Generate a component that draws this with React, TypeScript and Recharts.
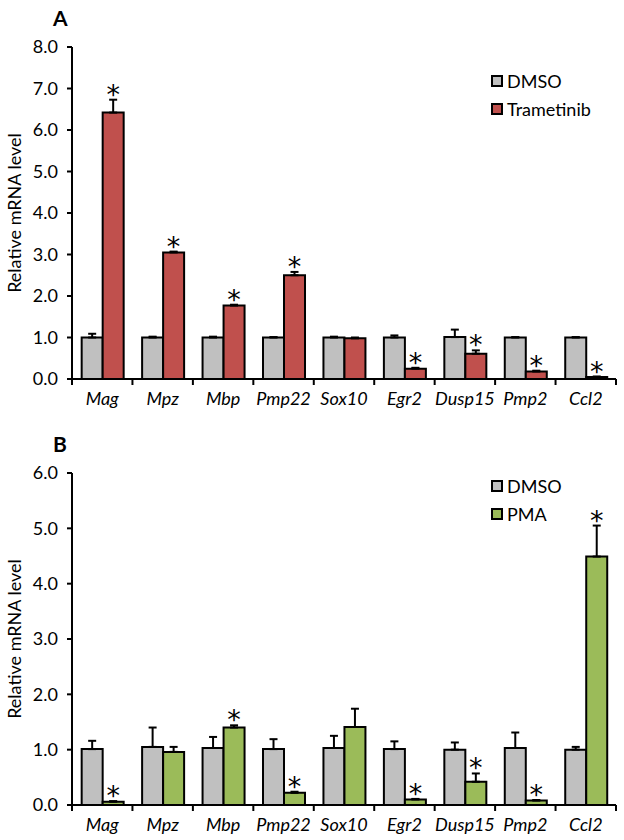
import { Bar, BarChart, ErrorBar, LabelList, XAxis, YAxis } from 'recharts'

const GENES = ['Mag', 'Mpz', 'Mbp', 'Pmp22', 'Sox10', 'Egr2', 'Dusp15', 'Pmp2', 'Ccl2']

// panel A: DMSO vs Trametinib
const DMSO_A = [1.0, 1.0, 1.0, 1.0, 1.0, 1.0, 1.01, 1.0, 1.0]
const DMSO_A_ERR = [0.09, 0.02, 0.02, 0.01, 0.02, 0.05, 0.18, 0.01, 0.01]
const TRAM = [6.42, 3.05, 1.77, 2.5, 0.98, 0.25, 0.61, 0.18, 0.05]
const TRAM_ERR = [0.31, 0.02, 0.02, 0.08, 0.02, 0.02, 0.08, 0.02, 0.01]
const TRAM_SIG = [true, true, true, true, false, true, true, true, true]
const TICKS_A = [0, 1, 2, 3, 4, 5, 6, 7, 8]

// panel B: DMSO vs PMA
const DMSO_B = [1.01, 1.05, 1.03, 1.01, 1.03, 1.01, 1.0, 1.03, 1.0]
const DMSO_B_ERR = [0.15, 0.35, 0.2, 0.18, 0.22, 0.14, 0.13, 0.28, 0.05]
const PMA = [0.06, 0.96, 1.4, 0.22, 1.41, 0.1, 0.42, 0.08, 4.49]
const PMA_ERR = [0.01, 0.09, 0.04, 0.02, 0.33, 0.01, 0.15, 0.01, 0.56]
const PMA_SIG = [true, false, true, true, false, true, true, true, true]
const TICKS_B = [0, 1, 2, 3, 4, 5, 6]

const FONT = 'Lato, "Open Sans", sans-serif'
const GRAY = '#c0c0c0'
const W = 624
const H = 420
const PLOT_H = 332
const AXIS_W = 72
const RIGHT = 8
const BAND = (W - AXIS_W - RIGHT) / GENES.length

type PanelProps = {
  letter: string
  top: number
  marginTop: number
  legendTop: number
  dmso: number[]
  dmsoErr: number[]
  treat: number[]
  treatErr: number[]
  sig: boolean[]
  treatName: string
  color: string
  ticks: number[]
}

function GeneTick(props: any) {
  const { x, y, payload, index } = props
  const last = index === GENES.length - 1
  return (
    <g>
      <line x1={x - BAND / 2} x2={x - BAND / 2} y1={y} y2={y + 6} stroke="#000" strokeWidth={2} />
      {last && <line x1={x + BAND / 2} x2={x + BAND / 2} y1={y} y2={y + 6} stroke="#000" strokeWidth={2} />}
      <text x={x} y={y + 26} textAnchor="middle" fontFamily={FONT} fontStyle="italic" fontSize={18} fill="#000">
        {payload.value}
      </text>
    </g>
  )
}

function Panel(p: PanelProps) {
  const { letter, top, marginTop, legendTop, dmso, dmsoErr, treat, treatErr, sig, treatName, color, ticks } = p
  const data = GENES.map((gene, i) => ({
    gene,
    dmso: dmso[i],
    dmsoErr: [0, dmsoErr[i]],
    treat: treat[i],
    treatErr: [0, treatErr[i]],
  }))
  const yMax = ticks[ticks.length - 1]

  const star = (lp: any) => {
    const { x, y, width, index } = lp
    if (!sig[index]) return null
    const errTop = y - treatErr[index] * (PLOT_H / yMax)
    return (
      <text
        x={x + width / 2}
        y={errTop + 4}
        textAnchor="middle"
        fontFamily="DejaVu Sans"
        fontSize={27}
        style={{ fill: '#000', stroke: 'none' }}
      >
        *
      </text>
    )
  }

  return (
    <div style={{ position: 'absolute', left: 0, top, width: W, height: H }}>
      <div
        style={{
          position: 'absolute',
          left: 53,
          top: marginTop - 40,
          fontFamily: FONT,
          fontWeight: 700,
          fontSize: 21,
          lineHeight: '21px',
        }}
      >
        {letter}
      </div>
      <div style={{ position: 'absolute', left: 491, top: legendTop, fontFamily: FONT, fontSize: 18, color: '#000' }}>
        {[
          { name: 'DMSO', fill: GRAY },
          { name: treatName, fill: color },
        ].map((item) => (
          <div key={item.name} style={{ display: 'flex', alignItems: 'center', height: 28 }}>
            <span
              style={{
                width: 8,
                height: 8,
                background: item.fill,
                border: '2px solid #000',
                marginRight: 4,
              }}
            />
            <span>{item.name}</span>
          </div>
        ))}
      </div>
      <BarChart
        width={W}
        height={H}
        data={data}
        margin={{ top: marginTop, right: RIGHT, left: 0, bottom: H - marginTop - PLOT_H - 30 }}
        barGap={0}
        barCategoryGap="16%"
      >
        <XAxis
          dataKey="gene"
          height={30}
          tickSize={0}
          tickMargin={0}
          tickLine={false}
          axisLine={{ stroke: '#000', strokeWidth: 2 }}
          tick={<GeneTick />}
          interval={0}
        />
        <YAxis
          width={AXIS_W}
          domain={[0, yMax]}
          ticks={ticks}
          tickFormatter={(v: number) => v.toFixed(1)}
          tickSize={5}
          tickMargin={9}
          axisLine={{ stroke: '#000', strokeWidth: 2 }}
          tickLine={{ stroke: '#000', strokeWidth: 2 }}
          tick={{ fill: '#000', fontFamily: FONT, fontSize: 18 }}
          label={{
            value: 'Relative mRNA level',
            angle: -90,
            position: 'insideLeft',
            dx: 10,
            style: { textAnchor: 'middle', fill: '#000', fontFamily: FONT, fontSize: 18 },
          }}
        />
        <Bar dataKey="dmso" name="DMSO" fill={GRAY} stroke="#000" strokeWidth={2} isAnimationActive={false}>
          <ErrorBar dataKey="dmsoErr" width={4} stroke="#000" strokeWidth={2} direction="y" />
        </Bar>
        <Bar dataKey="treat" name={treatName} fill={color} stroke="#000" strokeWidth={2} isAnimationActive={false}>
          <ErrorBar dataKey="treatErr" width={4} stroke="#000" strokeWidth={2} direction="y" />
          <LabelList dataKey="treat" content={star} />
        </Bar>
      </BarChart>
    </div>
  )
}

export default function App() {
  return (
    <div style={{ position: 'absolute', left: 0, top: 0, width: W, height: 840, background: '#fff' }}>
      <Panel
        letter="A"
        top={0}
        marginTop={47}
        legendTop={67}
        dmso={DMSO_A}
        dmsoErr={DMSO_A_ERR}
        treat={TRAM}
        treatErr={TRAM_ERR}
        sig={TRAM_SIG}
        treatName="Trametinib"
        color="#c0504d"
        ticks={TICKS_A}
      />
      <Panel
        letter="B"
        top={420}
        marginTop={53}
        legendTop={52}
        dmso={DMSO_B}
        dmsoErr={DMSO_B_ERR}
        treat={PMA}
        treatErr={PMA_ERR}
        sig={PMA_SIG}
        treatName="PMA"
        color="#9bbb59"
        ticks={TICKS_B}
      />
    </div>
  )
}
